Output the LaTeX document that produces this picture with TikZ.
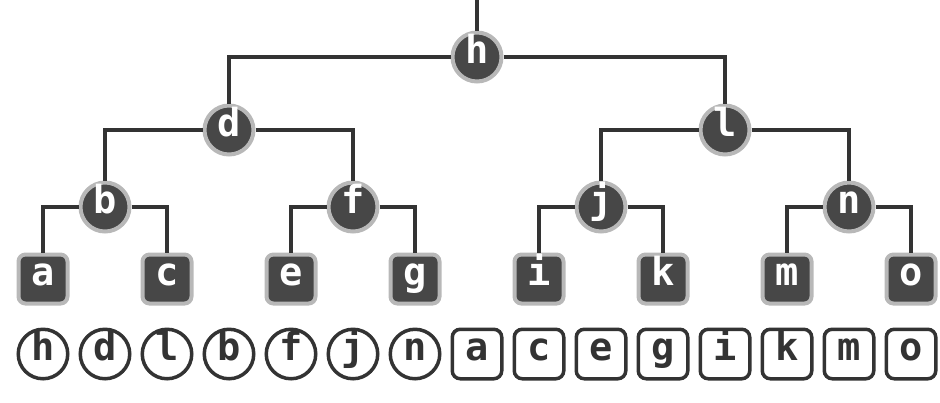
\documentclass[tikz,border=0pt]{standalone}
\usepackage{fontspec}
\usepackage{xcolor}
\usepackage{tikz}
\newfontfamily\treefont{DejaVu Sans Mono}
\definecolor{nodefill}{HTML}{474747}
\definecolor{nodering}{HTML}{B8B8B8}
\definecolor{linecol}{HTML}{333333}
\tikzset{
  inner/.style={circle, fill=nodefill, draw=nodering, line width=0.08cm,
    minimum size=0.98cm, inner sep=0pt, text=white,
    font=\treefont\bfseries\fontsize{22}{22}\selectfont, text height=0.7em, text depth=0pt},
  leaf/.style={rectangle, rounded corners=0.14cm, fill=nodefill, draw=nodering, line width=0.08cm,
    minimum size=0.98cm, inner sep=0pt, text=white,
    font=\treefont\bfseries\fontsize{22}{22}\selectfont, text height=0.7em, text depth=0pt},
  seqcirc/.style={circle, fill=white, draw=linecol, line width=0.07cm,
    minimum size=0.99cm, inner sep=0pt, text=linecol,
    font=\treefont\bfseries\fontsize{22}{22}\selectfont, text height=0.7em, text depth=0pt},
  seqbox/.style={rectangle, rounded corners=0.16cm, fill=white, draw=linecol, line width=0.07cm,
    minimum size=0.99cm, inner sep=0pt, text=linecol,
    font=\treefont\bfseries\fontsize{22}{22}\selectfont, text height=0.7em, text depth=0pt},
  branch/.style={draw=linecol, line width=0.08cm}
}
\begin{document}
\begin{tikzpicture}[x=1cm,y=1cm]
  \useasboundingbox (0,0) rectangle (18.8,-8.04);
  \coordinate (top) at (9.54,0);
  \node[inner] (h) at (9.54,-1.14) {h};
  \node[inner] (d) at (4.58,-2.60) {d};
  \node[inner] (l) at (14.50,-2.60) {l};
  \node[inner] (b) at (2.10,-4.14) {b};
  \node[inner] (f) at (7.06,-4.14) {f};
  \node[inner] (j) at (12.02,-4.14) {j};
  \node[inner] (n) at (16.98,-4.14) {n};
  \node[leaf] (a) at (0.86,-5.58) {a};
  \node[leaf] (c) at (3.34,-5.58) {c};
  \node[leaf] (e) at (5.82,-5.58) {e};
  \node[leaf] (g) at (8.30,-5.58) {g};
  \node[leaf] (i) at (10.78,-5.58) {i};
  \node[leaf] (k) at (13.26,-5.58) {k};
  \node[leaf] (m) at (15.74,-5.58) {m};
  \node[leaf] (o) at (18.22,-5.58) {o};

  \draw[branch] (top) -- (h);
  \draw[branch] (h) -| (d);
  \draw[branch] (h) -| (l);
  \draw[branch] (d) -| (b);
  \draw[branch] (d) -| (f);
  \draw[branch] (l) -| (j);
  \draw[branch] (l) -| (n);
  \draw[branch] (b) -| (a);
  \draw[branch] (b) -| (c);
  \draw[branch] (f) -| (e);
  \draw[branch] (f) -| (g);
  \draw[branch] (j) -| (i);
  \draw[branch] (j) -| (k);
  \draw[branch] (n) -| (m);
  \draw[branch] (n) -| (o);

  \foreach \t [count=\i from 0] in {h,d,l,b,f,j,n}
    \node[seqcirc] (s\i) at ({0.86+1.24*\i},-7.08) {\t};
  \foreach \t [count=\i from 7] in {a,c,e,g,i,k,m,o}
    \node[seqbox] (s\i) at ({0.86+1.24*\i},-7.08) {\t};
\end{tikzpicture}
\end{document}
